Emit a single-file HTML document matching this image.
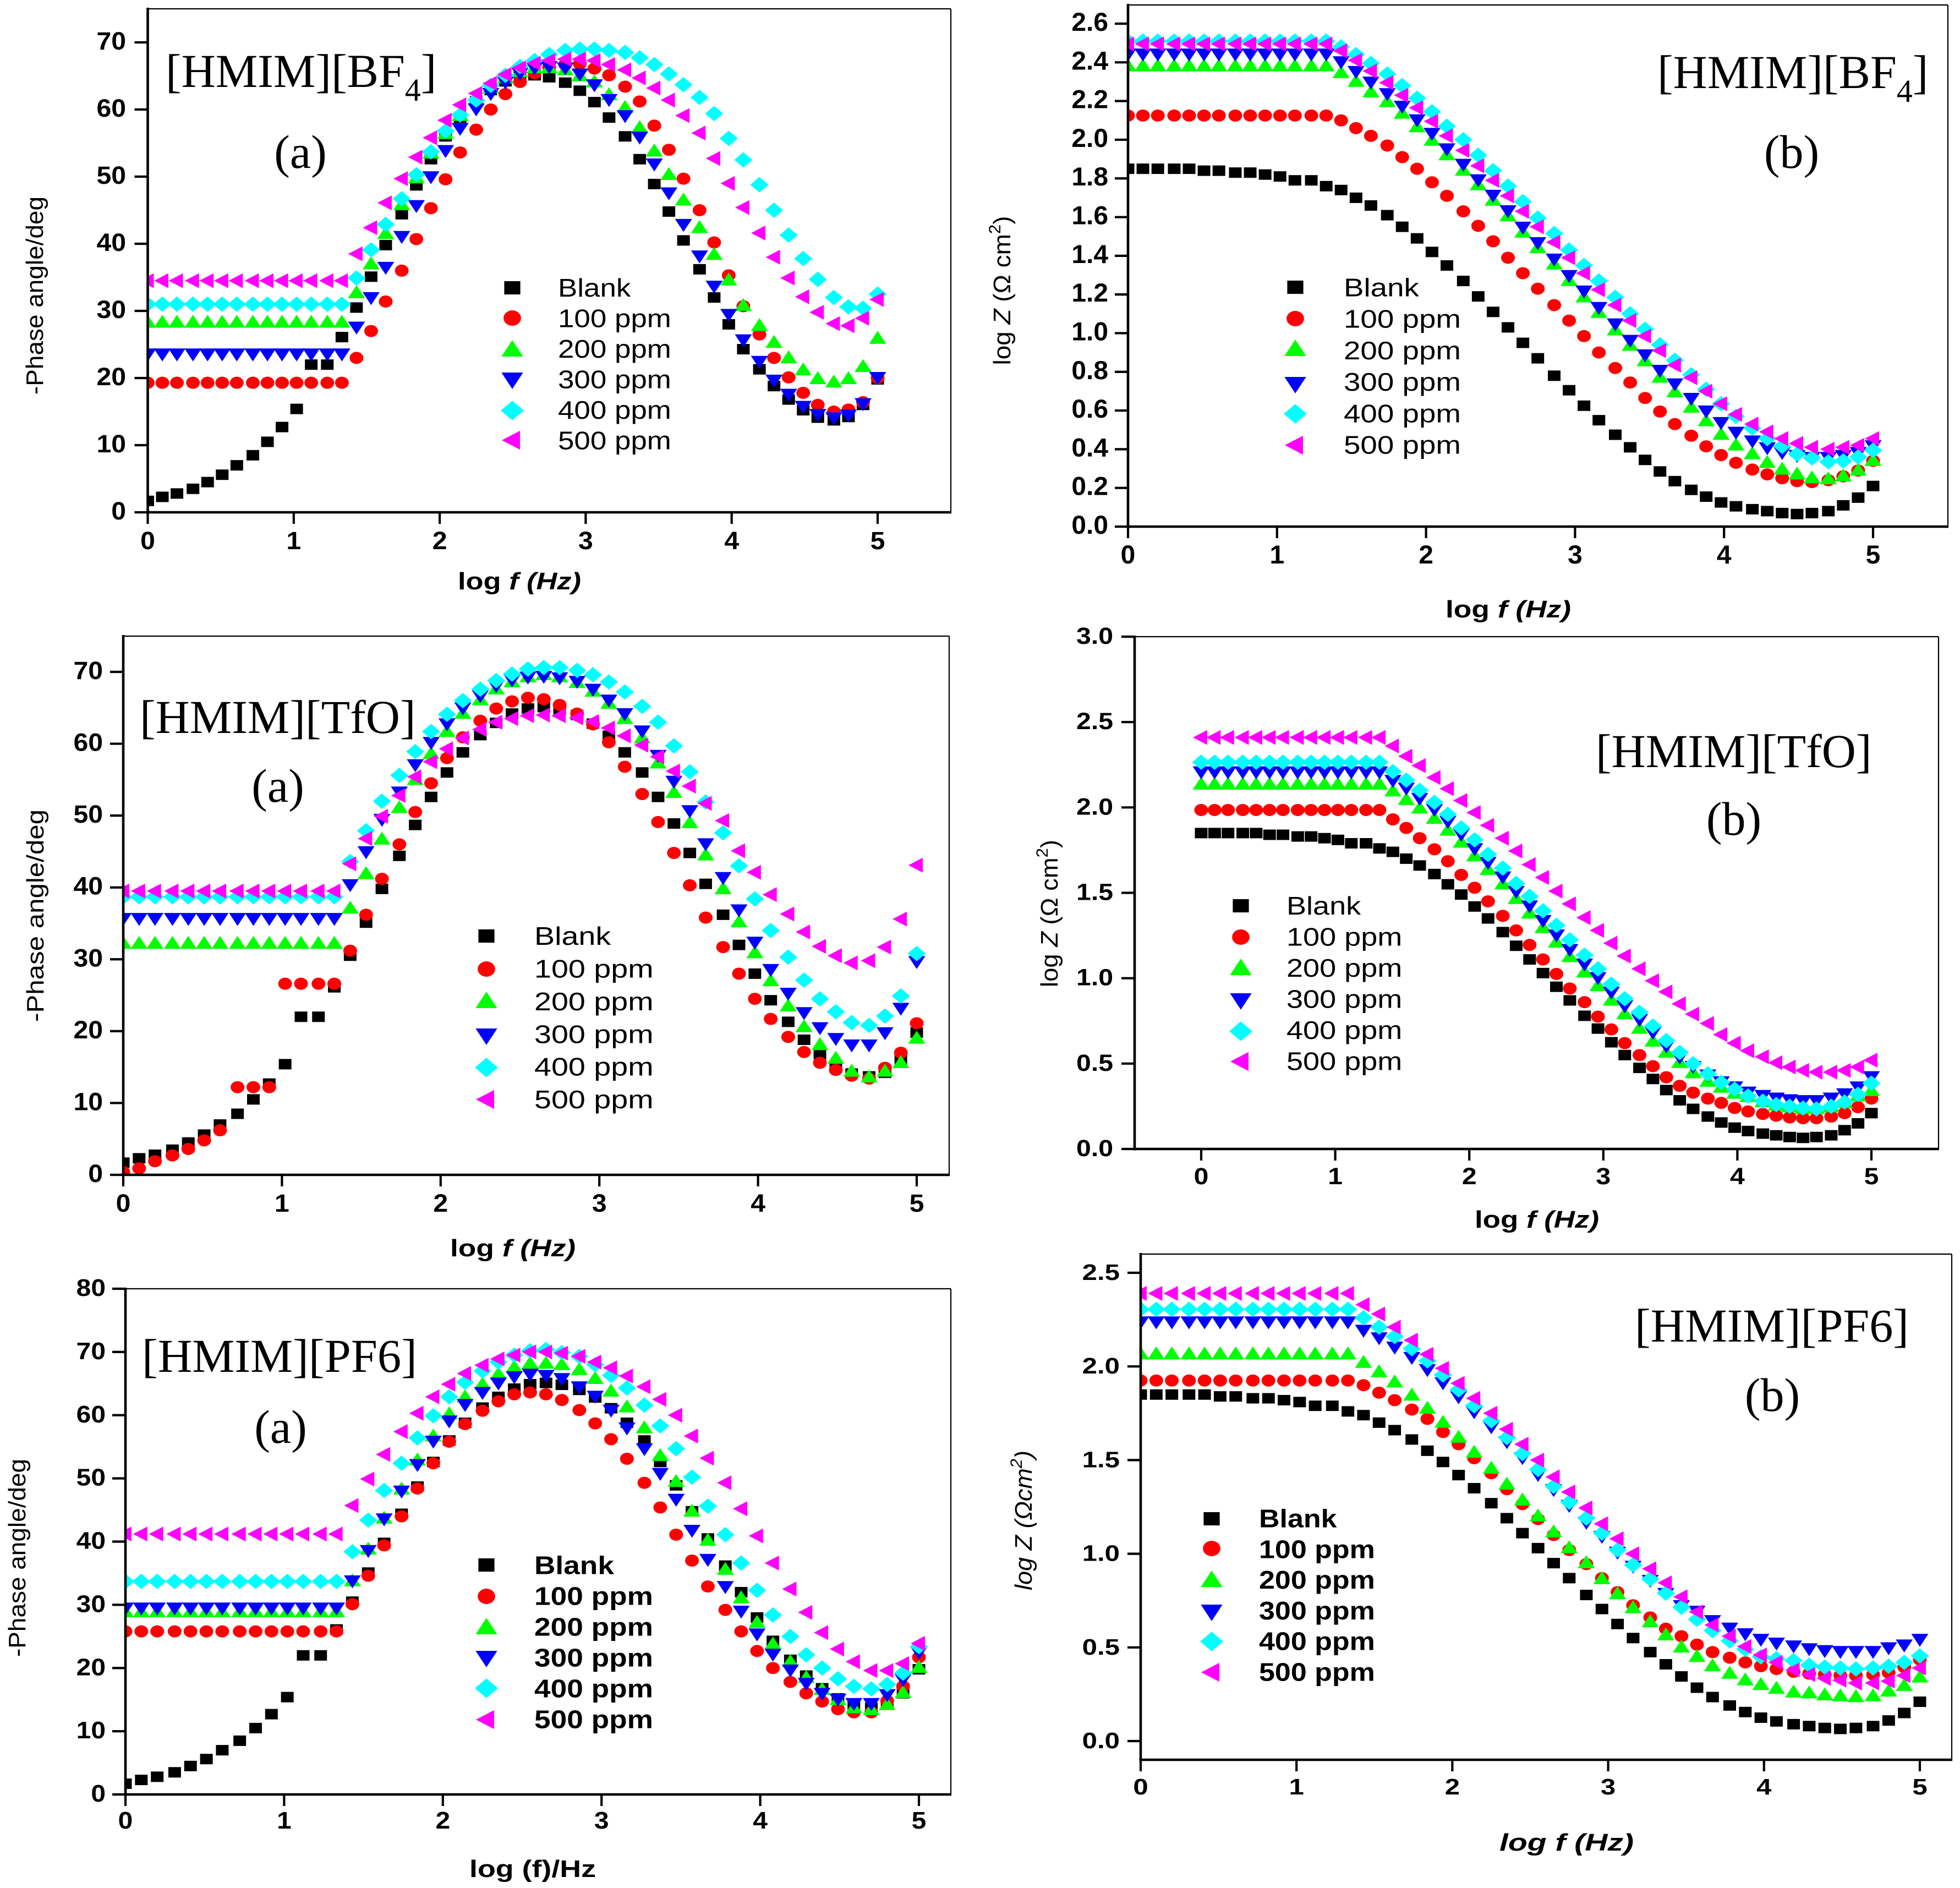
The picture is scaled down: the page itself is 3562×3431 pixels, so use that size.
<!DOCTYPE html>
<html lang="en">
<head>
<meta charset="utf-8">
<title>Bode plots for HMIM ionic liquids</title>
<style>
html,body{margin:0;padding:0;background:#fff}
svg{display:block}
.sans{font-family:"Liberation Sans",sans-serif}
.serif{font-family:"Liberation Serif",serif}
</style>
</head>
<body>
<svg id="figure" xmlns="http://www.w3.org/2000/svg" width="3562" height="3431" viewBox="0 0 3562 3431">
<rect x="0" y="0" width="3562" height="3431" fill="#fff"/>
<g id="plots"></g>
<rect x="700" y="2287" width="500" height="40" fill="#fff"/>

<g class="serif" fill="#000" font-size="86">
<text x="301" y="158">[HMIM][BF<tspan font-size="58" dy="25">4</tspan><tspan dy="-25">]</tspan></text>
<text x="546" y="305" text-anchor="middle">(a)</text>
<text x="3012" y="160">[HMIM][BF<tspan font-size="58" dy="25">4</tspan><tspan dy="-25">]</tspan></text>
<text x="3256" y="305" text-anchor="middle">(b)</text>
<text x="254" y="1332">[HMIM][TfO]</text>
<text x="505" y="1457" text-anchor="middle">(a)</text>
<text x="2900" y="1394">[HMIM][TfO]</text>
<text x="3151" y="1517" text-anchor="middle">(b)</text>
<text x="258" y="2493" textLength="500" lengthAdjust="spacingAndGlyphs">[HMIM][PF6]</text>
<text x="510" y="2622" text-anchor="middle">(a)</text>
<text x="2971" y="2438" textLength="498" lengthAdjust="spacingAndGlyphs">[HMIM][PF6]</text>
<text x="3221" y="2564" text-anchor="middle">(b)</text>
</g>

<g class="sans" fill="#000">
<text x="944" y="1071" text-anchor="middle" font-size="44" font-weight="bold" textLength="224" lengthAdjust="spacingAndGlyphs">log <tspan font-style="italic">f (Hz)</tspan></text>
<text x="2741" y="1122" text-anchor="middle" font-size="44" font-weight="bold" textLength="228" lengthAdjust="spacingAndGlyphs">log <tspan font-style="italic">f (Hz)</tspan></text>
<text x="932" y="2283" text-anchor="middle" font-size="44" font-weight="bold" textLength="228" lengthAdjust="spacingAndGlyphs">log <tspan font-style="italic">f (Hz)</tspan></text>
<text x="2793" y="2231" text-anchor="middle" font-size="44" font-weight="bold" textLength="226" lengthAdjust="spacingAndGlyphs">log <tspan font-style="italic">f (Hz)</tspan></text>
<text x="968" y="3411" text-anchor="middle" font-size="44" font-weight="bold" textLength="230" lengthAdjust="spacingAndGlyphs">log (f)/Hz</text>
<text x="2847" y="3363" text-anchor="middle" font-size="44" font-weight="bold" font-style="italic" textLength="244" lengthAdjust="spacingAndGlyphs">log f (Hz)</text>

<text transform="translate(78 537) rotate(-90)" text-anchor="middle" font-size="44" textLength="360" lengthAdjust="spacingAndGlyphs">-Phase angle/deg</text>
<text transform="translate(79 1664) rotate(-90)" text-anchor="middle" font-size="44" textLength="386" lengthAdjust="spacingAndGlyphs">-Phase angle/deg</text>
<text transform="translate(46 2831) rotate(-90)" text-anchor="middle" font-size="44" textLength="360" lengthAdjust="spacingAndGlyphs">-Phase angle/deg</text>
<text transform="translate(1836 528) rotate(-90)" text-anchor="middle" font-size="44" textLength="271" lengthAdjust="spacingAndGlyphs">log <tspan font-style="italic">Z</tspan> (Ω cm<tspan font-size="30" dy="-18">2</tspan><tspan dy="18">)</tspan></text>
<text transform="translate(1922 1660) rotate(-90)" text-anchor="middle" font-size="44" textLength="268" lengthAdjust="spacingAndGlyphs">log <tspan font-style="italic">Z</tspan> (Ω cm<tspan font-size="30" dy="-18">2</tspan><tspan dy="18">)</tspan></text>
<text transform="translate(1875 2763) rotate(-90)" text-anchor="middle" font-size="44" font-style="italic" textLength="254" lengthAdjust="spacingAndGlyphs">log Z (Ωcm<tspan font-size="30" dy="-18">2</tspan><tspan dy="18">)</tspan></text>
</g>
</svg>

<script>
const frequencies = [0,0.10,0.20,0.31,0.41,0.51,0.61,0.72,0.82,0.92,1.02,1.12,1.23,1.33,1.43,1.53,1.63,1.74,1.84,1.94,2.04,2.14,2.25,2.35,2.45,2.55,2.65,2.75,2.86,2.96,3.06,3.16,3.27,3.37,3.47,3.57,3.67,3.78,3.88,3.98,4.08,4.19,4.29,4.39,4.49,4.59,4.70,4.80,4.90,5.00];

const seriesLabels = ['Blank','100 ppm','200 ppm','300 ppm','400 ppm','500 ppm'];
const xTicks = [0,1,2,3,4,5];
const phaseTicks70 = [0,10,20,30,40,50,60,70];
const phaseTicks80 = [0,10,20,30,40,50,60,70,80];
const impedanceTicksFine = ['0.0','0.2','0.4','0.6','0.8','1.0','1.2','1.4','1.6','1.8','2.0','2.2','2.4','2.6'];
const impedanceTicks30 = ['0.0','0.5','1.0','1.5','2.0','2.5','3.0'];
const impedanceTicks25 = ['0.0','0.5','1.0','1.5','2.0','2.5'];

const phaseBlank = [1.7,2.3,2.8,3.5,4.5,5.6,7.0,8.5,10.5,12.7,15.4,22,22,26.1,30.5,35.1,39.8,44.4,48.7,52.6,56,58.8,61.2,62.9,64.2,64.9,65.1,64.8,64,62.8,61.1,58.8,56,52.6,48.9,44.8,40.5,36.2,32,28,24.3,21.3,18.8,16.8,15.2,14.1,13.7,14.2,16,19.8];
const impedanceBlank = [1.85,1.85,1.85,1.85,1.85,1.84,1.84,1.83,1.83,1.82,1.81,1.79,1.79,1.76,1.74,1.70,1.66,1.61,1.55,1.49,1.42,1.35,1.27,1.19,1.11,1.03,.95,.87,.78,.705,.625,.55,.475,.41,.345,.285,.235,.19,.155,.125,.105,.09,.08,.07,.065,.07,.08,.11,.15,.21];

const bf4Phase100 = [19.3,19.3,19.3,19.3,19.3,19.3,19.3,19.3,19.3,19.3,19.3,19.3,19.3,19.3,23,27,31.4,36,40.7,45.3,49.6,53.6,57,60,62.3,64.1,65.4,66.3,66.7,66.8,66.1,65.1,63.4,61.2,57.6,54,49.7,45,40.2,35.3,30.7,26.5,23,20.1,17.8,16,15,15.3,16.4,20];
const bf4Phase200 = [28.4,28.4,28.4,28.4,28.4,28.4,28.4,28.4,28.4,28.4,28.4,28.4,28.4,28.4,32.8,37.1,41.6,45.9,49.9,53.6,56.5,59.2,61.6,63.3,64.8,65.7,66.3,66.3,66,65.1,64.2,62.3,60.4,57.4,53.9,50.4,46.6,42.5,38.5,34.7,30.9,27.9,25.4,23.1,21.3,20,19.5,20,21.8,26];
const bf4Phase300 = [23.5,23.5,23.5,23.5,23.5,23.5,23.5,23.5,23.5,23.5,23.5,23.5,23.5,23.5,27.5,31.9,36.4,41,45.6,49.9,53.8,57.1,60,62.3,64,65.3,66.1,66.3,66.1,65.2,63.6,61.4,59,55.8,51.8,47.5,42.8,38.1,33.6,29.4,25.6,22.4,19.6,17.5,15.7,14.5,14,14.4,16.1,20];
const bf4Phase400 = [31,31,31,31,31,31,31,31,31,31,31,31,31,31,34.9,39.1,42.9,46.7,50.3,53.7,56.8,59.2,61.4,63.6,65.1,66.4,67.3,68.2,68.8,69,69,68.8,68.5,67.7,66.7,65.3,63.7,61.8,59.4,55.7,52.5,48.8,45,41.3,37.8,34.7,32,30.6,30.4,32.5];
const bf4Phase500 = [34.5,34.5,34.5,34.5,34.5,34.5,34.5,34.5,34.5,34.5,34.5,34.5,34.5,34.5,38.5,42.4,46.1,49.7,52.9,55.8,58.4,60.7,62.4,63.9,65.2,66.2,66.9,67.3,67.5,67.5,67.3,66.7,65.9,64.7,63.2,61.4,59.1,56.5,52.7,49,45.4,41.6,38,34.9,32.1,29.8,28.1,27.8,28.9,31.7];

const bf4Imp100 = [2.125,2.125,2.125,2.125,2.125,2.125,2.125,2.125,2.125,2.125,2.125,2.125,2.125,2.125,2.10,2.06,2.02,1.97,1.91,1.85,1.78,1.71,1.63,1.555,1.475,1.39,1.31,1.23,1.145,1.065,.985,.90,.82,.745,.665,.595,.53,.47,.415,.37,.33,.295,.27,.25,.235,.23,.24,.26,.29,.34];
const bf4Imp200 = [2.385,2.385,2.385,2.385,2.385,2.385,2.385,2.385,2.385,2.385,2.385,2.385,2.385,2.385,2.35,2.305,2.25,2.2,2.14,2.07,2.0,1.925,1.845,1.77,1.69,1.61,1.525,1.445,1.36,1.275,1.19,1.11,1.02,.94,.86,.775,.70,.62,.55,.48,.425,.38,.335,.30,.275,.255,.25,.265,.295,.345];
const bf4Imp300 = [2.44,2.44,2.44,2.44,2.44,2.44,2.44,2.44,2.44,2.44,2.44,2.44,2.44,2.44,2.40,2.35,2.295,2.235,2.17,2.10,2.03,1.95,1.87,1.79,1.71,1.63,1.545,1.465,1.38,1.295,1.215,1.13,1.045,.96,.885,.805,.735,.66,.595,.535,.485,.44,.405,.38,.365,.355,.355,.365,.38,.415];
const bf4Imp400 = [2.51,2.51,2.51,2.51,2.51,2.51,2.51,2.51,2.51,2.51,2.51,2.51,2.51,2.51,2.48,2.44,2.395,2.34,2.28,2.215,2.145,2.07,2.0,1.92,1.84,1.76,1.68,1.595,1.515,1.43,1.35,1.27,1.185,1.10,1.02,.94,.86,.785,.71,.635,.57,.51,.455,.415,.375,.355,.335,.34,.36,.395];
const bf4Imp500 = [2.495,2.495,2.495,2.495,2.495,2.495,2.495,2.495,2.495,2.495,2.495,2.495,2.495,2.495,2.46,2.41,2.355,2.295,2.23,2.165,2.095,2.02,1.945,1.865,1.79,1.71,1.63,1.55,1.47,1.39,1.31,1.225,1.145,1.065,.985,.91,.835,.77,.70,.635,.58,.53,.49,.455,.43,.41,.40,.41,.42,.455];

const tfoPhase100 = [.4,.9,1.9,2.7,3.6,4.8,6.2,12.2,12.2,12.2,26.6,26.6,26.6,26.6,31.2,36.2,41.2,46,50.5,54.5,58,60.9,63.2,64.9,65.9,66.4,66.2,65.4,64.2,62.7,60.2,56.8,53,49.1,44.8,40.3,35.8,31.7,28,24.5,21.7,19.2,17.1,15.6,14.6,13.8,13.4,14.9,17,21.1];
const tfoPhase200 = [32.3,32.3,32.3,32.3,32.3,32.3,32.3,32.3,32.3,32.3,32.3,32.3,32.3,32.3,37.2,42,46.8,51.2,55.1,58.7,61.8,64.3,66.2,67.7,68.7,69.4,69.7,69.4,68.6,67.4,65.7,63.6,60.9,57.4,53.3,49.1,44.6,39.9,35.3,31,27.1,23.6,20.7,18.2,16.3,14.5,13.7,14.5,15.7,19.1];
const tfoPhase300 = [35.6,35.6,35.6,35.6,35.6,35.6,35.6,35.6,35.6,35.6,35.6,35.6,35.6,35.6,40.3,44.9,49.4,53.2,57,60.1,62.7,64.9,66.6,68,68.8,69.2,69.3,69.1,68.6,67.5,66,64.1,61.7,58.3,54.7,50.6,46,41.3,36.8,32.3,28.5,25.2,22.5,20.4,18.9,18,18,19.7,23.1,29.6];
const tfoPhase400 = [38.7,38.7,38.7,38.7,38.7,38.7,38.7,38.7,38.7,38.7,38.7,38.7,38.7,38.7,43.6,47.9,52,55.6,58.9,61.7,64.1,66,67.6,68.8,69.7,70.4,70.6,70.6,70.2,69.6,68.6,67.2,65.2,63,59.7,56.1,51.9,47.6,43,38.4,34,30.3,27.1,24.5,22.7,21.2,20.8,22.1,24.9,30.8];
const tfoPhase500 = [39.5,39.5,39.5,39.5,39.5,39.5,39.5,39.5,39.5,39.5,39.5,39.5,39.5,39.5,43.3,46.8,49.9,52.8,55.4,57.5,59.3,60.8,62,63,63.5,63.9,64,63.9,63.6,63.1,62.2,61.1,59.8,58.2,56.2,54.1,51.7,49.3,45.1,42.1,39,36.3,33.8,31.8,30.5,29.5,29.8,31.7,35.6,43.1];

const tfoImp100 = [1.985,1.985,1.985,1.985,1.985,1.985,1.985,1.985,1.985,1.985,1.985,1.985,1.985,1.985,1.93,1.88,1.82,1.755,1.685,1.605,1.53,1.45,1.365,1.28,1.195,1.11,1.025,.94,.86,.775,.70,.62,.55,.485,.42,.37,.33,.295,.27,.24,.22,.205,.195,.185,.18,.18,.19,.21,.245,.295];
const tfoImp200 = [2.14,2.14,2.14,2.14,2.14,2.14,2.14,2.14,2.14,2.14,2.14,2.14,2.14,2.14,2.1,2.05,2.0,1.94,1.87,1.80,1.72,1.64,1.555,1.47,1.385,1.30,1.215,1.13,1.04,.96,.875,.795,.71,.635,.57,.51,.45,.40,.365,.33,.31,.28,.26,.25,.24,.24,.25,.275,.315,.345];
const tfoImp300 = [2.205,2.205,2.205,2.205,2.205,2.205,2.205,2.205,2.205,2.205,2.205,2.205,2.205,2.205,2.155,2.11,2.05,1.985,1.915,1.84,1.755,1.675,1.59,1.505,1.42,1.335,1.25,1.165,1.08,1.0,.915,.835,.755,.68,.60,.535,.48,.43,.39,.36,.33,.31,.295,.285,.28,.28,.295,.32,.36,.42];
const tfoImp400 = [2.265,2.265,2.265,2.265,2.265,2.265,2.265,2.265,2.265,2.265,2.265,2.265,2.265,2.265,2.21,2.16,2.10,2.03,1.96,1.88,1.81,1.725,1.645,1.555,1.48,1.395,1.31,1.225,1.135,1.055,.965,.88,.80,.72,.635,.565,.50,.44,.39,.35,.31,.28,.26,.25,.24,.235,.25,.275,.32,.385];
const tfoImp500 = [2.41,2.41,2.41,2.41,2.41,2.41,2.41,2.41,2.41,2.41,2.41,2.41,2.41,2.41,2.36,2.30,2.245,2.175,2.11,2.04,1.97,1.895,1.82,1.745,1.665,1.59,1.51,1.435,1.355,1.28,1.205,1.13,1.055,.985,.92,.85,.79,.735,.67,.62,.575,.54,.505,.48,.46,.45,.45,.46,.48,.52];

const pf6Phase100 = [25.8,25.8,25.8,25.8,25.8,25.8,25.8,25.8,25.8,25.8,25.8,25.8,25.8,25.8,30.1,34.6,39.4,44,48.4,52.4,55.8,58.6,60.7,62.2,63.3,63.6,63.3,62.4,60.8,58.7,56.2,53.1,49.3,45.4,41.1,37,32.9,29.2,25.8,22.7,20,17.8,16,14.7,13.5,13,13,14.8,17.1,21.7];
const pf6Phase200 = [29,29,29,29,29,29,29,29,29,29,29,29,29,29,33.9,38.9,43.8,48.4,53,56.8,60.3,63,65,66.6,67.7,68.3,68.3,68.1,67.3,65.9,63.9,61.4,58.1,53.7,49.6,44.9,40.3,35.7,31.2,27.3,23.9,21.1,18.6,16.7,15.1,13.8,13.5,14.3,16.2,20.2];
const pf6Phase300 = [29.4,29.4,29.4,29.4,29.4,29.4,29.4,29.4,29.4,29.4,29.4,29.4,29.4,29.4,33.7,38.5,43.5,47.9,52.1,55.8,59,61.6,63.5,65,66,66.4,66.2,65.7,64.4,62.9,60.7,57.9,54.6,50.7,46.6,41.7,37.1,32.8,28.9,25.3,22.1,19.6,17.5,15.9,15,14.3,14.3,15.7,18.1,22.4];
const pf6Phase400 = [33.7,33.7,33.7,33.7,33.7,33.7,33.7,33.7,33.7,33.7,33.7,33.7,33.7,33.7,38.4,43.4,48.1,52.4,56.4,59.9,62.9,65.2,67,68.4,69.5,70.2,70.4,69.9,69.3,68,66.3,64.3,61.6,58.3,54.7,50.2,45.6,41.1,36.6,32.3,28.4,25,22.1,20,18.3,17.1,16.7,17.4,19.2,23.4];
const pf6Phase500 = [41.2,41.2,41.2,41.2,41.2,41.2,41.2,41.2,41.2,41.2,41.2,41.2,41.2,41.2,45.7,49.9,53.8,57.4,60.3,62.9,64.9,66.6,67.9,68.9,69.5,70,70,69.8,69.3,68.4,67.5,66.2,64.5,62.5,60,56.7,53.2,49.3,45.2,40.9,36.6,32.5,28.8,25.6,23,21,19.6,19.6,20.7,23.9];

const pf6Imp100 = [1.925,1.925,1.925,1.925,1.925,1.925,1.925,1.925,1.925,1.925,1.925,1.925,1.925,1.925,1.90,1.86,1.82,1.77,1.72,1.65,1.585,1.51,1.43,1.345,1.265,1.185,1.10,1.02,.945,.87,.795,.725,.66,.60,.56,.515,.475,.445,.42,.40,.385,.37,.36,.355,.35,.35,.355,.365,.395,.435];
const pf6Imp200 = [2.07,2.07,2.07,2.07,2.07,2.07,2.07,2.07,2.07,2.07,2.07,2.07,2.07,2.07,2.025,1.975,1.92,1.85,1.78,1.705,1.625,1.545,1.46,1.375,1.29,1.205,1.12,1.035,.955,.87,.79,.715,.64,.57,.505,.455,.405,.365,.33,.305,.285,.265,.26,.25,.245,.24,.245,.27,.30,.345];
const pf6Imp300 = [2.235,2.235,2.235,2.235,2.235,2.235,2.235,2.235,2.235,2.235,2.235,2.235,2.235,2.235,2.19,2.15,2.10,2.045,1.98,1.91,1.835,1.755,1.675,1.595,1.51,1.42,1.34,1.255,1.165,1.09,1.005,.93,.855,.785,.72,.69,.64,.60,.57,.54,.52,.505,.49,.48,.475,.475,.475,.495,.51,.54];
const pf6Imp400 = [2.305,2.305,2.305,2.305,2.305,2.305,2.305,2.305,2.305,2.305,2.305,2.305,2.305,2.305,2.26,2.21,2.16,2.095,2.03,1.955,1.875,1.79,1.71,1.62,1.535,1.45,1.36,1.275,1.19,1.11,1.02,.94,.865,.79,.715,.65,.59,.535,.49,.45,.44,.43,.405,.395,.39,.385,.39,.40,.42,.455];
const pf6Imp500 = [2.39,2.39,2.39,2.39,2.39,2.39,2.39,2.39,2.39,2.39,2.39,2.39,2.39,2.39,2.33,2.28,2.21,2.14,2.065,1.99,1.91,1.83,1.75,1.665,1.585,1.50,1.41,1.33,1.245,1.16,1.08,1.0,.92,.845,.77,.69,.62,.56,.505,.46,.42,.38,.355,.335,.325,.31,.31,.32,.35,.39];

const NS = 'http://www.w3.org/2000/svg';
const root = document.getElementById('plots');

const seriesStyles = [
  {shape:'square', color:'#000000'},
  {shape:'circle', color:'#ff0000'},
  {shape:'up', color:'#00ff00'},
  {shape:'down', color:'#0000ff'},
  {shape:'diamond', color:'#00ffff'},
  {shape:'left', color:'#ff00ff'}
];

const panels = [
  {key:'bf4-phase', left:268.5, right:1728, top:16, bottom:931, x0:268.5, x5:1595, yZero:931, yRef:77, yRefVal:70,
   yTicks:phaseTicks70, labelRight:229, xLabelY:998, tickSize:45, tickSx:1.07,
   legendX:931, legendTextX:1014, legendY:[523,578,634,691,746,800], legendTextY:[522.5,578,633.5,689,744.5,800], legendSx:1.15, bold:false,
   series:[phaseBlank,bf4Phase100,bf4Phase200,bf4Phase300,bf4Phase400,bf4Phase500]},
  {key:'bf4-impedance', left:2050, right:3540, top:9, bottom:957, x0:2050, x5:3404, yZero:957, yRef:43, yRefVal:2.6,
   yTicks:impedanceTicksFine, labelRight:2014, xLabelY:1024, tickSize:47, tickSx:1.02,
   legendX:2354, legendTextX:2442, legendY:[522,579,633,699,752,809], legendTextY:[522,579.2,636.4,693.6,750.8,808], legendSx:1.19, bold:false,
   series:[impedanceBlank,bf4Imp100,bf4Imp200,bf4Imp300,bf4Imp400,bf4Imp500]},
  {key:'tfo-phase', left:224, right:1725, top:1156, bottom:2135, x0:224, x5:1666, yZero:2135, yRef:1221, yRefVal:70,
   yTicks:phaseTicks70, labelRight:187, xLabelY:2202, tickSize:45, tickSx:1.07,
   legendX:884, legendTextX:971, legendY:[1701,1761,1818,1883,1940,1998], legendTextY:[1700.6,1760,1819.4,1878.8,1938.2,1997.6], legendSx:1.21, bold:false,
   series:[phaseBlank,tfoPhase100,tfoPhase200,tfoPhase300,tfoPhase400,tfoPhase500]},
  {key:'tfo-impedance', left:2062, right:3523, top:1157, bottom:2088, x0:2183, x5:3401, yZero:2088, yRef:1157, yRefVal:3,
   yTicks:impedanceTicks30, labelRight:2023, xLabelY:2152, tickSize:43, tickSx:1.12,
   legendX:2255, legendTextX:2338, legendY:[1646,1703,1758,1819,1874,1929], legendTextY:[1645.6,1702.1,1758.6,1815.1,1871.6,1928], legendSx:1.175, bold:false,
   series:[impedanceBlank,tfoImp100,tfoImp200,tfoImp300,tfoImp400,tfoImp500]},
  {key:'pf6-phase', left:228, right:1728, top:2342, bottom:3261, x0:228, x5:1670, yZero:3261, yRef:2342, yRefVal:80,
   yTicks:phaseTicks80, labelRight:192, xLabelY:3323, tickSize:44, tickSx:1.09,
   legendX:884, legendTextX:971, legendY:[2844,2901,2956,3014,3068,3125], legendTextY:[2843.8,2899.8,2955.8,3011.8,3067.8,3124], legendSx:1.157, bold:true,
   series:[phaseBlank,pf6Phase100,pf6Phase200,pf6Phase300,pf6Phase400,pf6Phase500]},
  {key:'pf6-impedance', left:2073, right:3547, top:2279, bottom:3198, x0:2073, x5:3489, yZero:3164, yRef:2313, yRefVal:2.5,
   yTicks:impedanceTicks25, labelRight:2035, xLabelY:3261, tickSize:41, tickSx:1.2,
   legendX:2202, legendTextX:2288, legendY:[2760,2814,2870,2930,2983,3039], legendTextY:[2759,2814.8,2870.6,2926.4,2982.2,3038], legendSx:1.13, bold:true,
   series:[impedanceBlank,pf6Imp100,pf6Imp200,pf6Imp300,pf6Imp400,pf6Imp500]}
];

function xScale(p, v){ return p.x0 + (p.x5 - p.x0) * v / 5; }
function yScale(p, v){ return p.yZero + (p.yRef - p.yZero) * v / p.yRefVal; }

function marker(parent, shape, cx, cy, k, color){
  let el;
  if(shape === 'square'){
    el = document.createElementNS(NS, 'rect');
    el.setAttribute('x', cx - 11.5*k); el.setAttribute('y', cy - 9.5*k);
    el.setAttribute('width', 23*k); el.setAttribute('height', 19*k);
  } else if(shape === 'circle'){
    el = document.createElementNS(NS, 'ellipse');
    el.setAttribute('cx', cx); el.setAttribute('cy', cy);
    el.setAttribute('rx', 12.5*k); el.setAttribute('ry', 11*k);
  } else {
    el = document.createElementNS(NS, 'polygon');
    let pts;
    if(shape === 'up') pts = [[0,-12.5],[15.5,11],[-15.5,11]];
    if(shape === 'down') pts = [[0,12.5],[15.5,-11],[-15.5,-11]];
    if(shape === 'diamond') pts = [[0,-14],[16.5,0],[0,14],[-16.5,0]];
    if(shape === 'left') pts = [[-15,0],[11,-13.5],[11,13.5]];
    el.setAttribute('points', pts.map(q => (cx + q[0]*k) + ',' + (cy + q[1]*k)).join(' '));
  }
  el.setAttribute('fill', color);
  parent.appendChild(el);
  return el;
}

function label(parent, x, y, str, size, bold, sx, anchor){
  const t = document.createElementNS(NS, 'text');
  t.setAttribute('transform', 'translate(' + x + ' ' + y + ') scale(' + sx + ' 1)');
  t.setAttribute('font-family', '"Liberation Sans", sans-serif');
  t.setAttribute('font-size', size);
  t.setAttribute('font-weight', bold ? 'bold' : 'normal');
  t.setAttribute('text-anchor', anchor);
  t.setAttribute('fill', '#000');
  t.textContent = str;
  parent.appendChild(t);
  return t;
}

function line(parent, x1, y1, x2, y2, w){
  const l = document.createElementNS(NS, 'line');
  l.setAttribute('x1', x1); l.setAttribute('y1', y1);
  l.setAttribute('x2', x2); l.setAttribute('y2', y2);
  l.setAttribute('stroke', '#000'); l.setAttribute('stroke-width', w);
  parent.appendChild(l);
  return l;
}

panels.forEach(function(p){
  const g = document.createElementNS(NS, 'g');
  
  
  root.appendChild(g);

  const defs = document.createElementNS(NS, 'defs');
  const clip = document.createElementNS(NS, 'clipPath');
  clip.setAttribute('id', 'clip-' + p.key);
  const cr = document.createElementNS(NS, 'rect');
  cr.setAttribute('x', p.left); cr.setAttribute('y', p.top);
  cr.setAttribute('width', p.right - p.left); cr.setAttribute('height', p.bottom - p.top);
  clip.appendChild(cr); defs.appendChild(clip); g.appendChild(defs);

  p.series.forEach(function(values, s){
    const sg = document.createElementNS(NS, 'g');
    
    
    sg.setAttribute('clip-path', 'url(#clip-' + p.key + ')');
    g.appendChild(sg);
    values.forEach(function(v, i){
      const m = marker(sg, seriesStyles[s].shape, xScale(p, frequencies[i]), yScale(p, v), 1, seriesStyles[s].color);
      
      
    });
  });

  const frame = document.createElementNS(NS, 'g');
  
  
  g.appendChild(frame);
  line(frame, p.left - 2, p.top, p.right, p.top, 2.2);
  line(frame, p.right, p.top, p.right, p.bottom, 2.2);
  line(frame, p.left, p.top - 2, p.left, p.bottom + 2.5, 4.6);
  line(frame, p.left - 2.5, p.bottom, p.right + 1, p.bottom, 4.5);

  xTicks.forEach(function(v){
    const px = xScale(p, v);
    line(frame, px, p.bottom, px, p.bottom + 21, 4.2);
    const t = label(frame, px, p.xLabelY, String(v), p.tickSize, true, p.tickSx, 'middle');
    
    
  });

  p.yTicks.forEach(function(v){
    const py = yScale(p, Number(v));
    line(frame, p.left - 24, py, p.left, py, 4.2);
    const t = label(frame, p.labelRight, py + 13, String(v), p.tickSize, true, p.tickSx, 'end');
    
    
  });

  const lg = document.createElementNS(NS, 'g');
  
  
  g.appendChild(lg);
  seriesLabels.forEach(function(name, s){
    const m = marker(lg, seriesStyles[s].shape, p.legendX, p.legendY[s], 1.27, seriesStyles[s].color);
    
    
    const t = label(lg, p.legendTextX, p.legendTextY[s] + 16.5, name, 46, p.bold, p.legendSx, 'start');
    
    
  });
});
</script>
</body>
</html>
